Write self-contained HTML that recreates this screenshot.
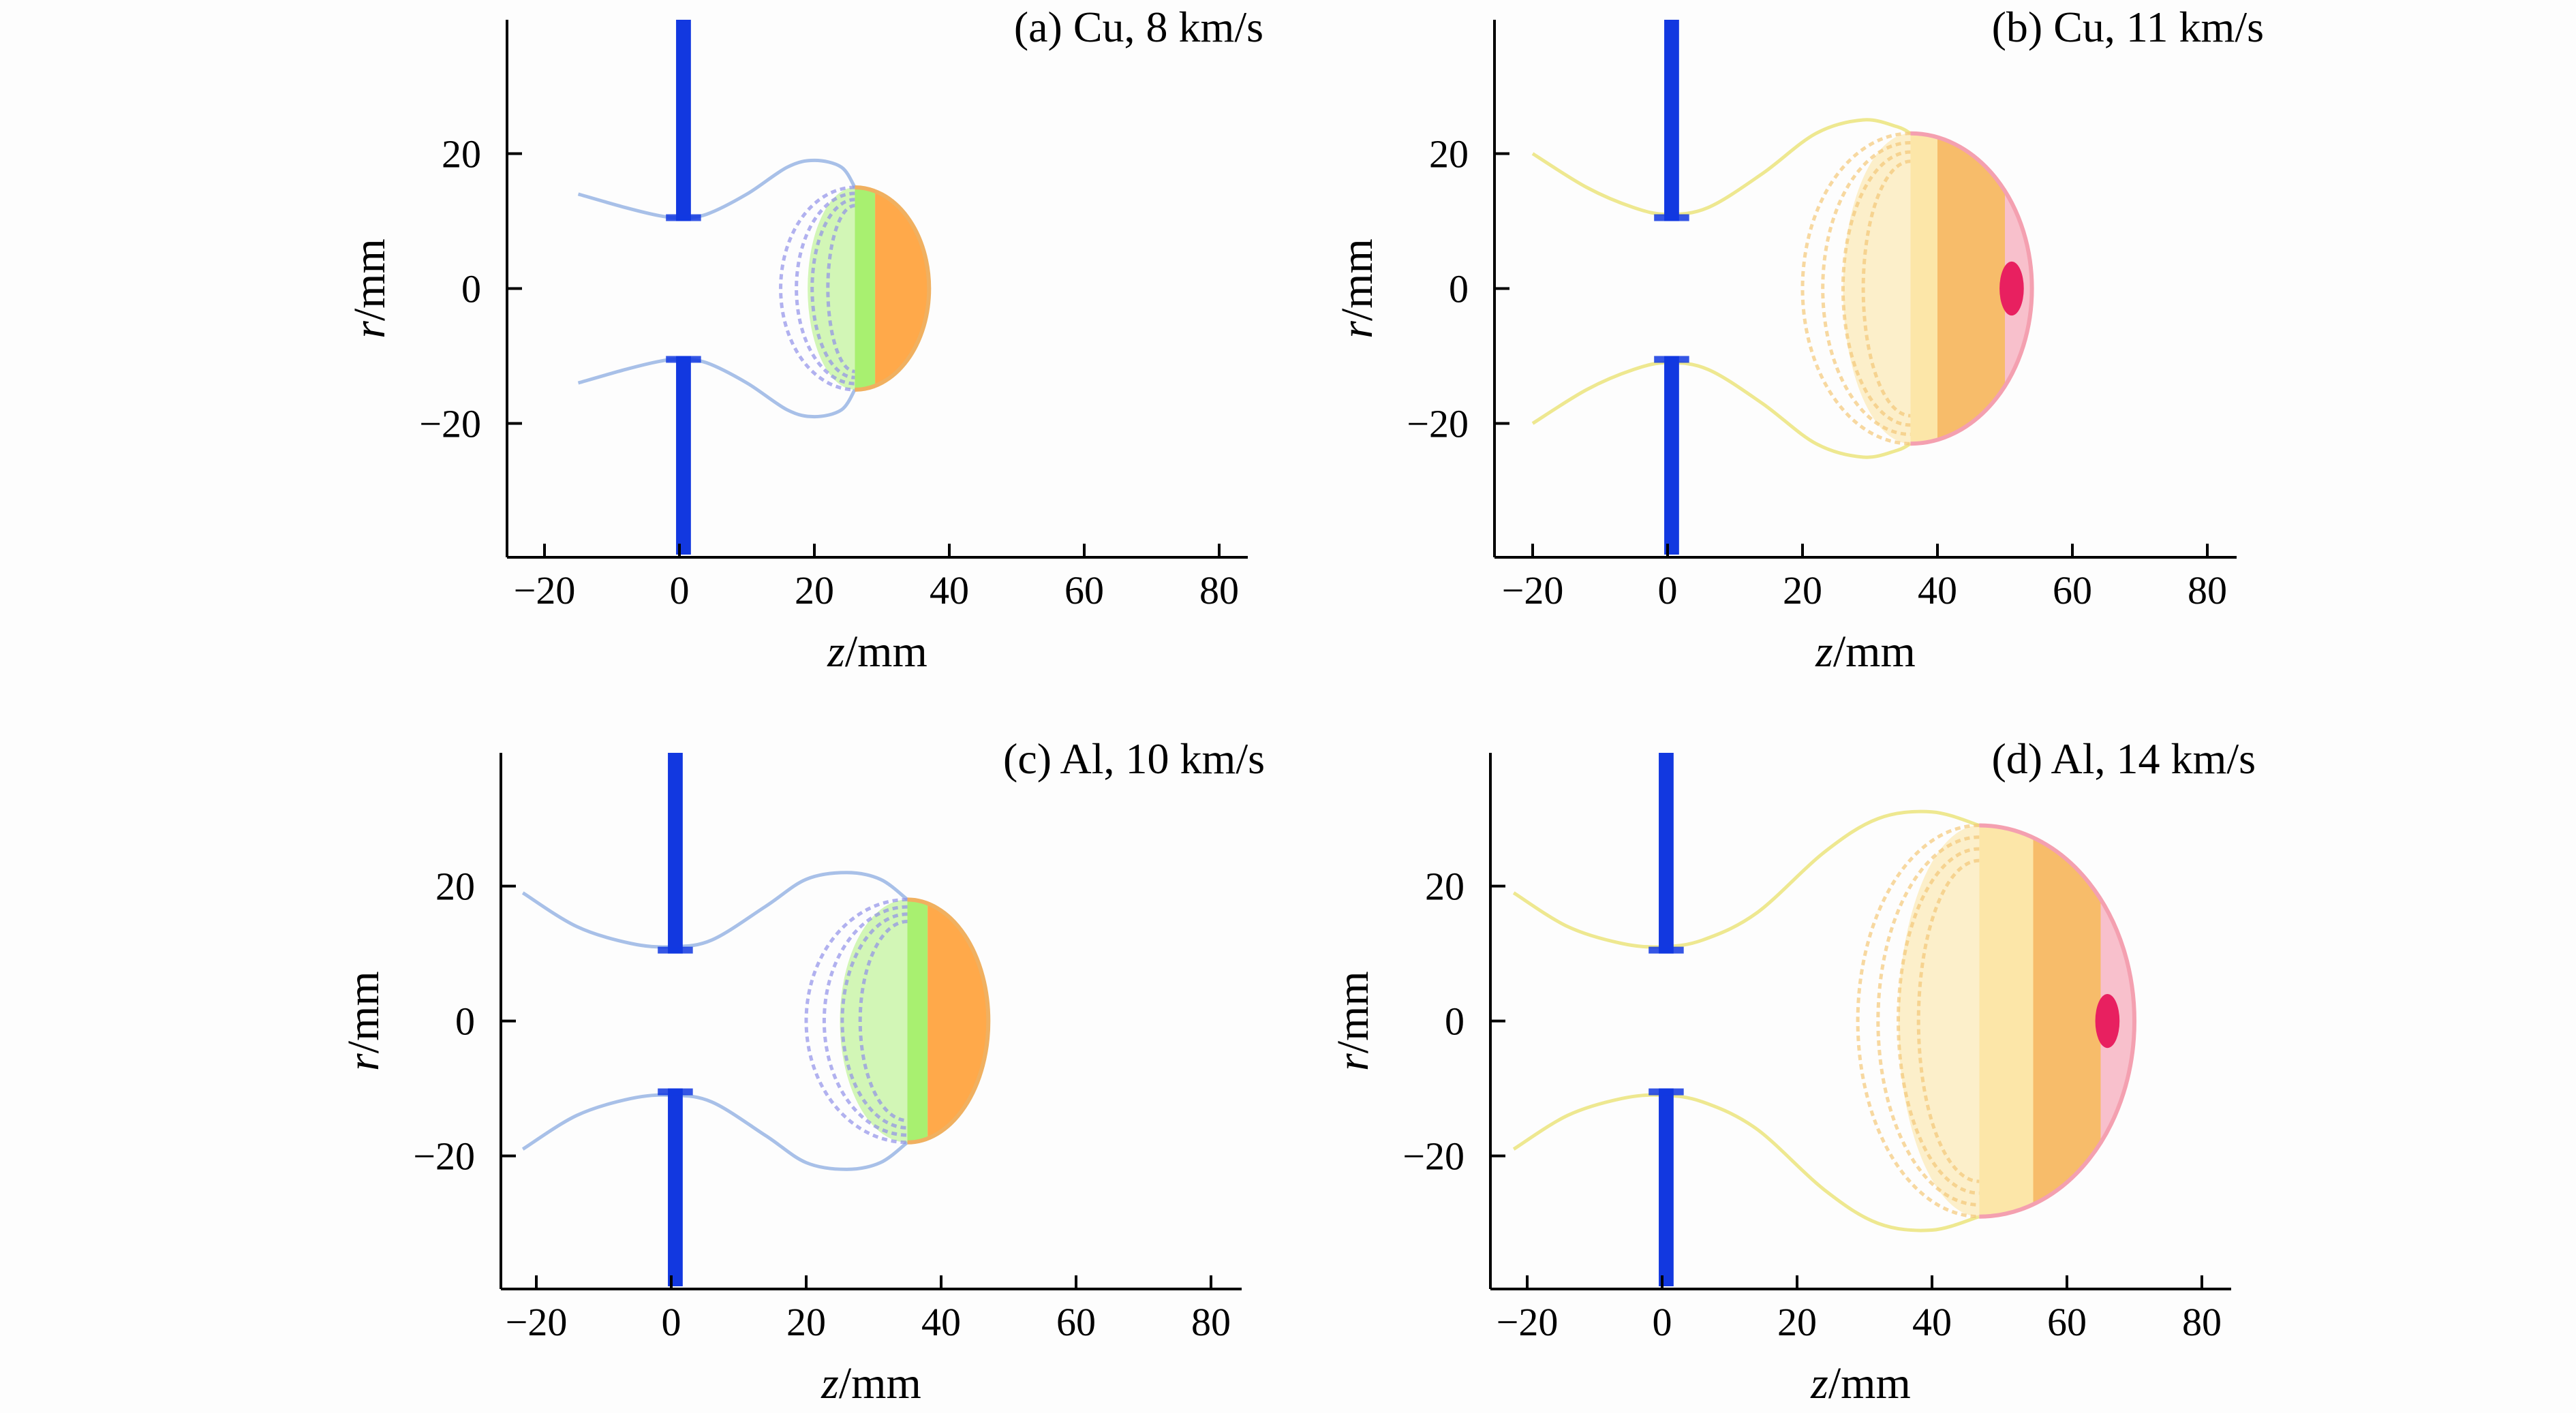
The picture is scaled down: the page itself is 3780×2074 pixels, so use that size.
<!DOCTYPE html>
<html><head><meta charset="utf-8">
<style>
html,body{margin:0;padding:0;background:#fdfdfd;}
svg{display:block;font-family:"Liberation Serif",serif;}
</style></head>
<body>
<svg id="fig" width="3780" height="2074" viewBox="0 0 3780 2074" xmlns="http://www.w3.org/2000/svg">
<rect x="0" y="0" width="3780" height="2074" fill="#fdfdfd"/>
</svg>
<script>
// ---- data ----
const panelTitles = ["(a) Cu, 8 km/s", "(b) Cu, 11 km/s", "(c) Al, 10 km/s", "(d) Al, 14 km/s"];
const xTicks = [-20, 0, 20, 40, 60, 80];
const yTicks = [20, 0, -20];
const xTickLabels = ["\u221220", "0", "20", "40", "60", "80"];
const yTickLabels = ["20", "0", "\u221220"];
const cloudFrontZ = [37, 54, 47, 70];
const cloudEdgeZ = [26, 36, 35, 47];
const cloudEdgeR = [15, 23, 18, 29];
const cloudRearZ = [15, 20, 20, 29];
const innerRearZ = [19, 26, 25, 35];
const innerZoneZ = [29, 40, 38, 55];
const hotCoreZ = [null, 50, null, 65];
const ejZ = [[-15,-8,-3,0,4,10,16,20,24,26],[-20,-12,-5,0,6,14,22,29,34,36],[-22,-14,-6,0,6,14,20,26,31,35],[-22,-14,-6,0,6,14,24,32,40,47]];
const ejR = [[14,12,10.8,10.5,11,14,18,19,18,15],[20,15,12,11,12,17,23,25,24,23],[19,14,11.5,11,12,17,21,22,21,18],[19,14,11.5,11,12,16,25,30,31,29]];

const layout = [
 {ax:744, z0:997, r0:423.5, top:29, xb:818, right:1831, tx:1854, ty:61},
 {ax:2193, z0:2447, r0:423.5, top:29, xb:818, right:3282, tx:3322, ty:61},
 {ax:735, z0:985, r0:1498.6, top:1105, xb:1892, right:1822, tx:1856, ty:1135},
 {ax:2187, z0:2439, r0:1498.6, top:1105, xb:1892, right:3274, tx:3310, ty:1135}
];
const S = 9.9;
const NS = "http://www.w3.org/2000/svg";
const svg = document.getElementById('fig');
function el(tag, attrs, parent){ const e=document.createElementNS(NS,tag); for(const k in attrs) e.setAttribute(k,attrs[k]); (parent||svg).appendChild(e); return e; }
function smooth(pts){
  let d='M'+pts[0][0]+','+pts[0][1];
  for(let k=0;k<pts.length-1;k++){
    const p0=pts[Math.max(0,k-1)],p1=pts[k],p2=pts[k+1],p3=pts[Math.min(pts.length-1,k+2)];
    const c1=[p1[0]+(p2[0]-p0[0])/6,p1[1]+(p2[1]-p0[1])/6], c2=[p2[0]-(p3[0]-p1[0])/6,p2[1]-(p3[1]-p1[1])/6];
    d+=` C${c1[0]},${c1[1]} ${c2[0]},${c2[1]} ${p2[0]},${p2[1]}`;
  }
  return d;
}

layout.forEach((L,i)=>{
  const X = z=>L.z0+z*S, Y = r=>L.r0-r*S;
  const g = el('g',{});
  
  
  const green = (i===0||i===2);

  [1,-1].forEach(sign=>{
    const pts = ejZ[i].map((z,k)=>[X(z),Y(sign*ejR[i][k])]);
    const p = el('path',{d:smooth(pts),fill:'none',stroke: green? '#a8c0e8':'#eee890','stroke-width':5},g);
    
    
  });

  const fz=cloudFrontZ[i], ez=cloudEdgeZ[i], er=cloudEdgeR[i], rz=cloudRearZ[i], iz=innerZoneZ[i], irz=innerRearZ[i];
  const rx=(fz-ez)*S, ry=er*S;
  const front = `M${X(ez)},${Y(er)} A${rx},${ry} 0 0 1 ${X(ez)},${Y(-er)} Z`;
  const cid='clip'+i;
  const defs=el('defs',{},g);
  const cp=el('clipPath',{id:cid},defs);
  el('path',{d:front},cp);
  const inner = green ? '#a8f070' : '#fce6a8';
  const outer = green ? '#ff9a2a' : '#f6b050';
  const rl=el('path',{d:`M${X(ez)},${Y(er)} A${(ez-irz)*S},${ry} 0 0 0 ${X(ez)},${Y(-er)} Z`,fill:inner,opacity:green?0.5:0.6},g);
   
  const cg=el('g',{'clip-path':'url(#'+cid+')'},g);
  el('rect',{x:X(ez)-2,y:Y(er),width:X(iz)-X(ez)+2,height:2*ry,fill:inner},cg);
  el('rect',{x:X(iz),y:Y(er),width:X(fz)-X(iz)+2,height:2*ry,fill:outer,opacity:0.85},cg);
  if(hotCoreZ[i]!==null){
    el('rect',{x:X(hotCoreZ[i]),y:Y(er),width:X(fz)-X(hotCoreZ[i])+2,height:2*ry,fill:'#f8c0cc'},cg);
    el('ellipse',{cx:X(hotCoreZ[i]+1),cy:Y(0),rx:1.8*S,ry:4*S,fill:'#e82060'},cg);
  }
  for(let k=0;k<4;k++){
    const sz = rz + k*(irz-rz+3)/3;
    const sc = 1-k*0.06;
    const sh=el('path',{d:`M${X(ez)},${Y(er*sc)} A${(ez-sz)*S},${ry*sc} 0 0 0 ${X(ez)},${Y(-er*sc)}`,fill:'none',stroke: green ? '#9090e8':'#f4c878','stroke-width':5,'stroke-dasharray':'8 6',opacity:0.7},g);
    
    
  }
  const outline=el('path',{d:`M${X(ez)},${Y(er)} A${rx},${ry} 0 0 1 ${X(ez)},${Y(-er)}`,fill:'none',stroke: green?'#f0b060':'#f4a0b0','stroke-width':6},g);
  
  

  [[L.top, Y(10)],[Y(-10), L.xb-4]].forEach(([y1,y2])=>{
    const pl=el('rect',{x:X(-0.5),y:y1,width:2.2*S,height:y2-y1,fill:'#1238e0'},g);
    
    
  });
  [[Y(10)-10],[Y(-10)]].forEach(([y])=>{
    const fl=el('rect',{x:X(-2),y:y,width:5.2*S,height:10,fill:'#1238e0',opacity:0.85},g);
    
    
  });

  const ya=el('line',{x1:L.ax,y1:L.top,x2:L.ax,y2:L.xb,stroke:'#000','stroke-width':4},g);
   
  const xa=el('line',{x1:L.ax,y1:L.xb,x2:L.right,y2:L.xb,stroke:'#000','stroke-width':4},g);
   
  xTicks.forEach((t,k)=>{
    el('line',{x1:X(t),y1:L.xb,x2:X(t),y2:L.xb-20,stroke:'#000','stroke-width':4},g);
    const tl=el('text',{x:X(t),y:L.xb+68,'font-size':58,'text-anchor':'middle',fill:'#000'},g);
    tl.textContent=xTickLabels[k];
     
  });
  yTicks.forEach((t,k)=>{
    el('line',{x1:L.ax,y1:Y(t),x2:L.ax+22,y2:Y(t),stroke:'#000','stroke-width':4},g);
    const tl=el('text',{x:L.ax-38,y:Y(t)+20,'font-size':58,'text-anchor':'end',fill:'#000'},g);
    tl.textContent=yTickLabels[k];
     
  });
  const xt=el('text',{x:(L.ax+L.right)/2,y:L.xb+160,'font-size':66,'text-anchor':'middle',fill:'#000'},g);
  xt.innerHTML='<tspan font-style="italic">z</tspan>/mm';
   
  const yt=el('text',{x:0,y:0,'font-size':66,'text-anchor':'middle',fill:'#000',transform:`translate(${L.ax-180},${L.r0}) rotate(-90)`},g);
  yt.innerHTML='<tspan font-style="italic">r</tspan>/mm';
   
  const tt=el('text',{x:L.tx,y:L.ty,'font-size':64,'text-anchor':'end',fill:'#000'},g);
  tt.textContent=panelTitles[i];
   
});
</script>
</body></html>
